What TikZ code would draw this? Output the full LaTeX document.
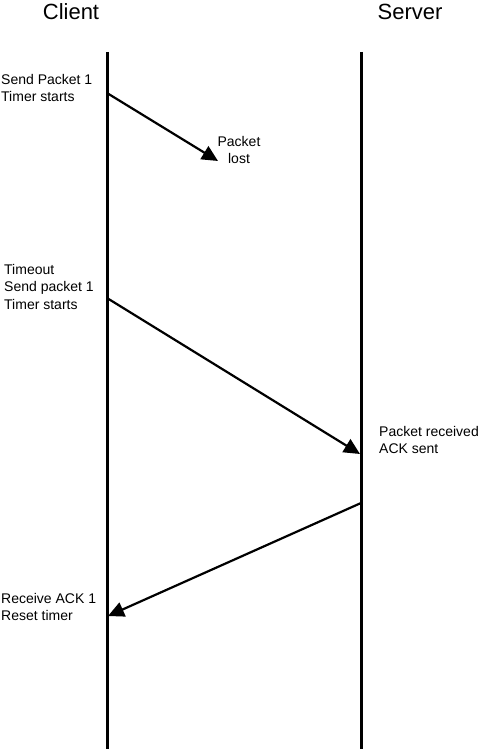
\documentclass[tikz,border=0pt]{standalone}
\usepackage{fontspec}
\setmainfont{Liberation Sans}
\usetikzlibrary{arrows.meta}
\begin{document}
\begin{tikzpicture}[x=1pt,y=-1pt,
  lifeline/.style={line width=3pt},
  msg/.style={line width=2.2pt,-{Triangle[length=16pt,width=15pt]}},
  lbl/.style={font=\fontsize{14}{17.5}\selectfont,align=left,inner sep=0pt},
  ttl/.style={font=\fontsize{22}{26}\selectfont,inner sep=0pt}]
\useasboundingbox (0,0) rectangle (485,749);
\node[ttl] (client) at (71,12) {Client};
\node[ttl] (server) at (410,12) {Server};
\coordinate (ctop) at (107,52);
\coordinate (cbot) at (107,749);
\coordinate (stop) at (361,52);
\coordinate (sbot) at (361,749);
\draw[lifeline] (ctop) -- (cbot);
\draw[lifeline] (stop) -- (sbot);
% first send
\coordinate (s1) at (107,93);
\coordinate (lost) at (218,161);
\draw[msg] (s1) -- (lost);
\node[lbl,align=center,anchor=north] (l2) at (239,136) {Packet\\lost};
\node[lbl,anchor=north west] (l1) at (1,74) {Send Packet 1\\Timer starts};
% second send
\coordinate (s2) at (107,298);
\coordinate (r2) at (360,454);
\draw[msg] (s2) -- (r2);
\node[lbl,anchor=north west] (l3) at (4,264) {Timeout\\Send packet 1\\Timer starts};
\node[lbl,anchor=north west] (l4) at (379,426) {Packet received\\ACK sent};
% ack
\coordinate (a0) at (361,503);
\coordinate (a1) at (108,616);
\draw[msg] (a0) -- (a1);
\node[lbl,anchor=north west] (l5) at (1,593) {Receive ACK 1\\Reset timer};
\end{tikzpicture}
\end{document}
